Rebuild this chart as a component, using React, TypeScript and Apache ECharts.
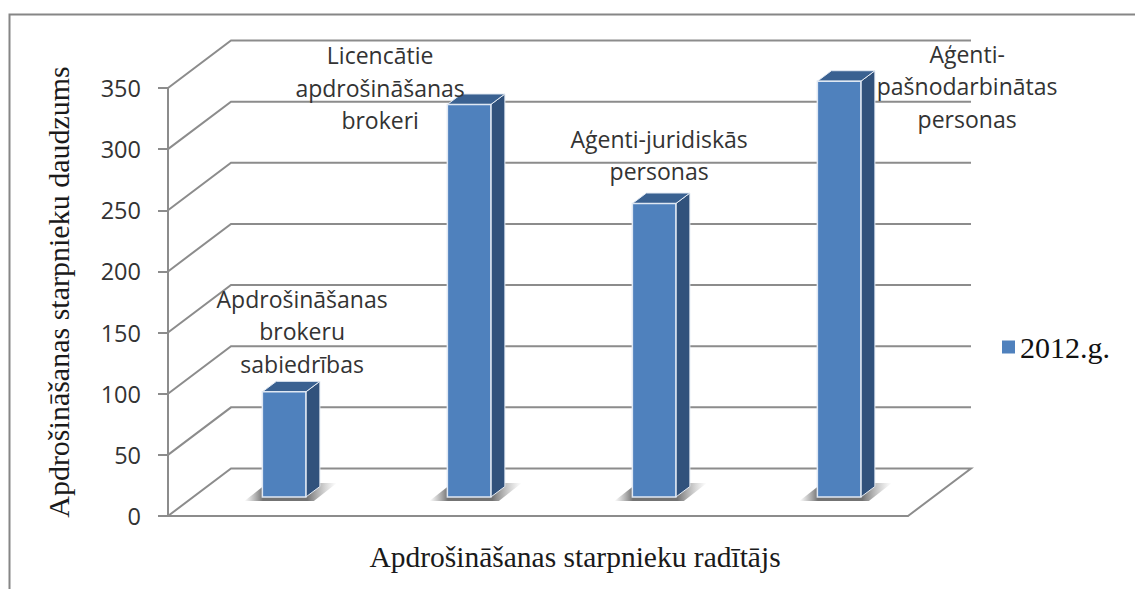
import React, { useEffect, useRef } from "react";
import * as echarts from "echarts";

const categories = [
  "Apdrošināšanas\nbrokeru\nsabiedrības",
  "Licencātie\napdrošināšanas\nbrokeri",
  "Aģenti-juridiskās\npersonas",
  "Aģenti-\npašnodarbinātas\npersonas",
];
const values = [86, 321, 240, 340];
const seriesName = "2012.g.";
const yTicks = [0, 50, 100, 150, 200, 250, 300, 350];
const yTitle = "Apdrošināšanas starpnieku daudzums";
const xTitle = "Apdrošināšanas starpnieku radītājs";

// layout: text centre offset from each bar's top centre, and text bottom
const labelDx = [18, -89, 5, 128];
const labelBottomGap = [12, -32, 16, -54];

const WALL_DX = 63;
const WALL_DY = 47.5;
const BAR_W = 43.5;
const BAR_DX = 14;
const BAR_DY = 10.5;
const DEPTH_X = 0.375;
const DEPTH_Y = 0.4;
const GRID_COLOR = "#8c8c8c";
const SANS = "'Open Sans', 'Noto Sans', sans-serif";
const SERIF = "'Liberation Serif', serif";

export default function App() {
  const ref = useRef<HTMLDivElement>(null);
  useEffect(() => {
    const chart = echarts.init(ref.current!, undefined, { renderer: "svg" });
    chart.setOption({
      animation: false,
      backgroundColor: "#ffffff",
      grid: { left: 168, right: 227, top: 88, bottom: 73 },
      legend: {
        data: [{ name: seriesName, icon: "rect" }],
        left: 997,
        top: 327,
        itemWidth: 13,
        itemHeight: 13,
        itemGap: 10,
        textStyle: { fontFamily: SERIF, fontSize: 30, color: "#111" },
      },
      xAxis: {
        type: "category",
        data: categories,
        name: xTitle,
        nameLocation: "middle",
        nameGap: 26,
        nameTextStyle: { fontFamily: SERIF, fontSize: 29.5, color: "#1a1a1a", padding: [0, 0, 0, 74] },
        axisTick: { show: false },
        axisLabel: { show: false },
        axisLine: { lineStyle: { color: GRID_COLOR, width: 2 } },
      },
      yAxis: {
        type: "value",
        min: 0,
        max: 350,
        interval: 50,
        name: yTitle,
        nameLocation: "middle",
        nameGap: 95,
        nameTextStyle: { fontFamily: SERIF, fontSize: 30, color: "#1a1a1a", padding: [0, 0, 0, 20] },
        splitLine: { show: false },
        axisLine: { show: true, lineStyle: { color: GRID_COLOR, width: 2 } },
        axisTick: { show: true, length: 10, lineStyle: { color: GRID_COLOR, width: 2 } },
        axisLabel: { fontFamily: SANS, fontSize: 23.5, color: "#333", margin: 27 },
      },
      graphic: [
        {
          type: "polyline",
          shape: { points: [[9.5, 600], [9.5, 14.5], [1140, 14.5]] },
          style: { stroke: "#868686", lineWidth: 2, fill: "none" },
          silent: true,
        },
      ],
      series: [
        {
          type: "custom",
          name: "walls",
          z: 1,
          silent: true,
          data: yTicks.map((v) => [0, v]),
          renderItem: (params: any, api: any) => {
            const v = api.value(1);
            const g = params.coordSys;
            const y = api.coord([0, v])[1];
            const left = g.x;
            const right = g.x + g.width;
            const points =
              v === 0
                ? [
                    [left, y],
                    [left + WALL_DX, y - WALL_DY],
                    [right + WALL_DX, y - WALL_DY],
                    [right, y],
                  ]
                : [
                    [left, y],
                    [left + WALL_DX, y - WALL_DY],
                    [right + WALL_DX, y - WALL_DY],
                  ];
            return {
              type: "polyline",
              shape: { points },
              style: { stroke: GRID_COLOR, lineWidth: 2, fill: "none" },
            };
          },
        },
        {
          type: "custom",
          name: seriesName,
          z: 3,
          itemStyle: { color: "#4f81bd" },
          data: values.map((v, i) => [i, v]),
          renderItem: (_params: any, api: any) => {
            const i = api.value(0);
            const v = api.value(1);
            const top = api.coord([i, v]);
            const base = api.coord([i, 0]);
            const cx = top[0] + DEPTH_X * WALL_DX;
            const l = cx - BAR_W / 2;
            const r = l + BAR_W;
            const t = top[1] - DEPTH_Y * WALL_DY;
            const b = base[1] - DEPTH_Y * WALL_DY;
            return {
              type: "group",
              children: [
                {
                  type: "polygon",
                  shape: {
                    points: [
                      [l - 18, b + 4],
                      [r + 8, b + 4],
                      [r + 31, b - 14],
                      [l + 5, b - 14],
                    ],
                  },
                  style: {
                    fill: new echarts.graphic.LinearGradient(0, 0, 1, 0, [
                      { offset: 0, color: "rgba(140,140,140,0)" },
                      { offset: 0.2, color: "rgba(115,115,115,1)" },
                      { offset: 0.68, color: "rgba(115,115,115,1)" },
                      { offset: 1, color: "rgba(170,170,170,0)" },
                    ]),
                  },
                },
                {
                  type: "polygon",
                  shape: { points: [[r, t], [r + BAR_DX, t - BAR_DY], [r + BAR_DX, b - BAR_DY], [r, b]] },
                  style: { fill: "#31527c", stroke: "#e4ebf4", lineWidth: 1 },
                },
                {
                  type: "polygon",
                  shape: { points: [[l, t], [r, t], [r + BAR_DX, t - BAR_DY], [l + BAR_DX, t - BAR_DY]] },
                  style: { fill: "#3a6191", stroke: "#e4ebf4", lineWidth: 1 },
                },
                {
                  type: "rect",
                  shape: { x: l, y: t, width: BAR_W, height: b - t },
                  style: { fill: "#4f81bd", stroke: "#dfe8f3", lineWidth: 1.5 },
                },
                {
                  type: "text",
                  x: cx + labelDx[i],
                  y: t - labelBottomGap[i],
                  style: {
                    text: categories[i],
                    fontFamily: SANS,
                    fontSize: 23,
                    lineHeight: 32.5,
                    fill: "#333",
                    align: "center",
                    verticalAlign: "bottom",
                  },
                },
              ],
            };
          },
        },
      ],
    });
    return () => chart.dispose();
  }, []);
  return (
    <div
      ref={ref}
      style={{ position: "absolute", left: 0, top: 0, width: 1135, height: 589 }}
    />
  );
}
